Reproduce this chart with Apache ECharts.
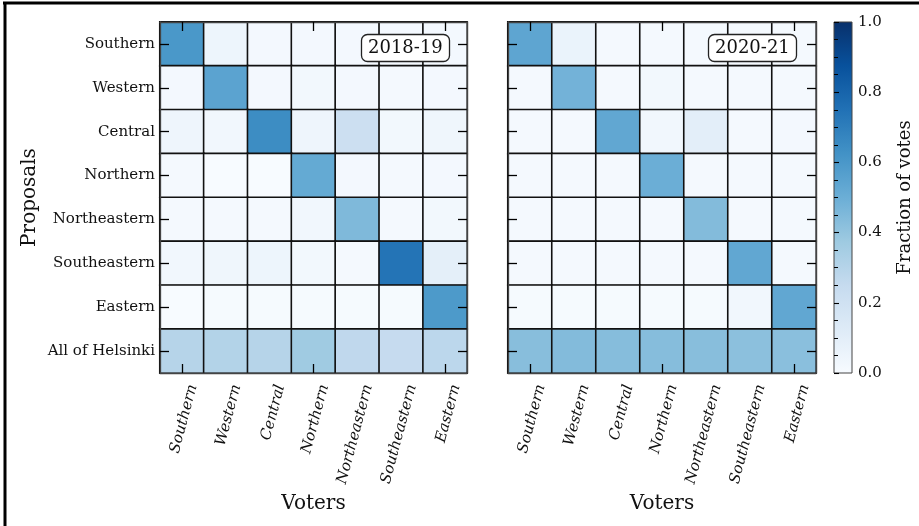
<!DOCTYPE html>
<html>
<head>
<meta charset="utf-8">
<script src="https://cdn.jsdelivr.net/npm/echarts@6/dist/echarts.min.js"></script>
<style>html,body{margin:0;padding:0;background:#fff;}#c{width:919px;height:526px;}</style>
</head>
<body>
<div id="c"></div>
<script>
const voters = ['Southern','Western','Central','Northern','Northeastern','Southeastern','Eastern'];
const proposals = ['Southern','Western','Central','Northern','Northeastern','Southeastern','Eastern','All of Helsinki'];
const panelTitles = ['2018-19','2020-21'];
const values2018 = [
  [0.60,0.05,0.02,0.02,0.02,0.02,0.02],
  [0.02,0.55,0.02,0.025,0.02,0.015,0.02],
  [0.045,0.03,0.645,0.045,0.22,0.025,0.04],
  [0.015,0.00,0.00,0.52,0.02,0.015,0.02],
  [0.015,0.015,0.015,0.03,0.45,0.015,0.025],
  [0.03,0.04,0.05,0.025,0.015,0.74,0.095],
  [0.00,0.01,0.01,0.01,0.01,0.01,0.59],
  [0.30,0.31,0.30,0.37,0.27,0.25,0.28]
];
const values2020 = [
  [0.54,0.065,0.015,0.015,0.015,0.015,0.015],
  [0.015,0.48,0.015,0.025,0.015,0.015,0.015],
  [0.015,0.015,0.53,0.03,0.10,0.015,0.02],
  [0.015,0.015,0.015,0.50,0.015,0.015,0.015],
  [0.015,0.015,0.015,0.015,0.44,0.015,0.015],
  [0.015,0.015,0.015,0.015,0.015,0.53,0.015],
  [0.01,0.01,0.01,0.01,0.01,0.03,0.53],
  [0.43,0.44,0.435,0.435,0.43,0.42,0.425]
];
const cbTicks = [0, 0.2, 0.4, 0.6, 0.8, 1.0];
const blues = ['#f7fbff','#deebf7','#c6dbef','#9ecae1','#6baed6','#4292c6','#2171b5','#08519c','#08306b'];

const FONT = 'DejaVu Serif';
const TXT = '#111';

function toData(m){
  const d = [];
  m.forEach((row, r) => row.forEach((v, c) => d.push([c, r, v])));
  return d;
}
// 29-slot label axis: each voter label sits slightly right of its cell centre, like a centred rotated label
const labelSlots = Array.from({length: 29}, (_, j) => 's' + j);

const grids = [
  {left: 160, top: 22, width: 307, height: 351},
  {left: 508, top: 22, width: 308, height: 351},
  {left: 834, top: 22, width: 18, height: 351}
];

const tickStyle = {show: true, inside: true, length: 9, alignWithLabel: true, lineStyle: {color: '#000', width: 1.3}};
const lineStyle = {show: true, lineStyle: {color: '#444', width: 1.3}};

function catX(g, pos){
  return {type: 'category', gridIndex: g, data: voters, position: pos, zlevel: 1, z: 10,
    axisLine: lineStyle, axisTick: tickStyle, axisLabel: {show: false}, splitLine: {show: false}};
}
function labX(g){
  return {type: 'category', gridIndex: g, data: labelSlots, boundaryGap: false, position: 'bottom', z: 10,
    axisLine: {show: false}, axisTick: {show: false}, splitLine: {show: false},
    name: 'Voters', nameLocation: 'middle', nameGap: 115,
    nameTextStyle: {fontFamily: FONT, fontSize: 20, color: TXT},
    axisLabel: {show: true, interval: 0, rotate: 75, margin: 12, fontFamily: FONT, fontStyle: 'italic', fontSize: 15, color: TXT,
      formatter: (v, idx) => (idx % 4 === 3 ? voters[(idx - 3) / 4] : '')}};
}
function catY(g, pos, labels){
  const a = {type: 'category', gridIndex: g, data: proposals, inverse: true, position: pos, zlevel: 1, z: 10,
    axisLine: lineStyle, axisTick: tickStyle, splitLine: {show: false},
    axisLabel: {show: labels, margin: 5, fontFamily: FONT, fontSize: 15, color: TXT}};
  if (labels) {
    a.name = 'Proposals'; a.nameLocation = 'middle'; a.nameGap = 120; a.nameRotate = 90;
    a.nameTextStyle = {fontFamily: FONT, fontSize: 20, color: TXT};
  }
  return a;
}

const option = {
  backgroundColor: '#fff',
  animation: false,
  title: panelTitles.map((t, i) => ({
    text: t, left: i === 0 ? 361 : 708, top: 34, zlevel: 2,
    padding: [4, 7], borderColor: '#222', borderWidth: 1.3, borderRadius: 6, backgroundColor: '#fff',
    textStyle: {fontFamily: FONT, fontSize: 18, fontWeight: 'normal', color: TXT, lineHeight: 20}
  })),
  grid: [
    grids[0], grids[1],
    Object.assign({show: true, borderColor: '#444', borderWidth: 1,
      backgroundColor: new echarts.graphic.LinearGradient(0, 1, 0, 0,
        blues.map((c, i) => ({offset: i / (blues.length - 1), color: c})))}, grids[2])
  ],
  visualMap: {type: 'continuous', show: false, min: 0, max: 1, seriesIndex: [0, 1], inRange: {color: blues}},
  xAxis: [
    catX(0, 'bottom'), catX(0, 'top'), labX(0),
    catX(1, 'bottom'), catX(1, 'top'), labX(1),
    {type: 'value', gridIndex: 2, min: 0, max: 1, show: false}
  ],
  yAxis: [
    catY(0, 'left', true), catY(0, 'right', false),
    catY(1, 'left', false), catY(1, 'right', false),
    {type: 'value', gridIndex: 2, position: 'right', min: cbTicks[0], max: cbTicks[cbTicks.length - 1], interval: 0.2, z: 10,
      axisLine: {show: false}, splitLine: {show: false},
      axisTick: {show: true, inside: false, length: 5, lineStyle: {color: '#000', width: 1.1}},
      minorTick: {show: true, splitNumber: 4, length: 4, lineStyle: {color: '#000', width: 1}},
      axisLabel: {margin: 6, fontFamily: FONT, fontSize: 15, color: TXT, formatter: v => v.toFixed(1)},
      name: 'Fraction of votes', nameLocation: 'middle', nameRotate: 90, nameGap: 44,
      nameTextStyle: {fontFamily: FONT, fontSize: 18, color: TXT}}
  ],
  series: [
    {type: 'heatmap', xAxisIndex: 0, yAxisIndex: 0, data: toData(values2018), z: 1,
      itemStyle: {borderColor: '#111', borderWidth: 1.6}, emphasis: {disabled: true}},
    {type: 'heatmap', xAxisIndex: 3, yAxisIndex: 2, data: toData(values2020), z: 1,
      itemStyle: {borderColor: '#111', borderWidth: 1.6}, emphasis: {disabled: true}}
  ],
  graphic: [
    {type: 'line', shape: {x1: 3, y1: 3, x2: 919, y2: 3}, style: {stroke: '#000', lineWidth: 3}, silent: true},
    {type: 'line', shape: {x1: 5, y1: 2, x2: 5, y2: 526}, style: {stroke: '#000', lineWidth: 3}, silent: true}
  ]
};
echarts.init(document.getElementById('c')).setOption(option);
</script>
</body>
</html>
